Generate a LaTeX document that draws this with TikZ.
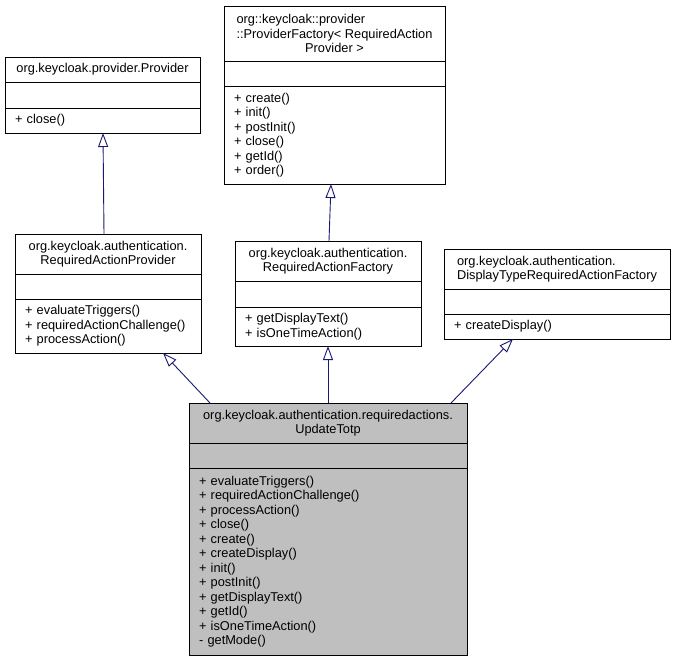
\documentclass[tikz,border=0pt]{standalone}
\usepackage{fontspec}
\setmainfont{Liberation Sans}
\usepackage{xcolor}
\usetikzlibrary{positioning,arrows.meta}

\definecolor{edgeblue}{RGB}{25,25,112}
\definecolor{classgray}{RGB}{191,191,191}

\begin{document}
\begin{tikzpicture}[x = 1pt, y = -1pt,
    every node/.style = {font = \fontsize{12.8pt}{14.5pt}\selectfont},
    compartment/.style = {rectangle, draw, line width = 0.9pt, outer sep = 0pt,
      inner ysep = 2pt},
    classname/.style = {compartment, align = center, minimum width = #1},
    members/.style = {compartment, align = left, inner xsep = 10pt, text width = #1},
    inherit/.style = {draw = edgeblue, line width = 0.9pt,
      -{Triangle[open, length = 14pt, width = 10pt]}}]
  \useasboundingbox (0, 0) rectangle (675, 661);

  % org.keycloak.provider.Provider
  \node[classname = 195pt, minimum height = 25pt] (prov) at (102.5, 69.5)
    {org.keycloak.provider.Provider};
  \node[compartment, minimum width = 195pt, minimum height = 26pt,
    below = 0pt of prov] (prov attr) {};
  \node[members = 175pt, minimum height = 25pt, below = 0pt of prov attr]
    (prov ops) {+ close()};

  % ProviderFactory< RequiredActionProvider >
  \node[classname = 221pt, minimum height = 55pt] (pfac) at (334.5, 33.5)
    {\rlap{org::keycloak::provider}\phantom{::ProviderFactory< RequiredAction}\\
      ::ProviderFactory< RequiredAction\\Provider >};
  \node[compartment, minimum width = 221pt, minimum height = 25pt,
    below = 0pt of pfac] (pfac attr) {};
  \node[members = 201pt, minimum height = 98pt, below = 0pt of pfac attr]
    (pfac ops) {+ create()\\+ init()\\+ postInit()\\+ close()\\+ getId()\\
      + order()};

  % RequiredActionProvider
  \node[classname = 186pt, minimum height = 40pt] (rap) at (108, 254)
    {org.keycloak.authentication.\\RequiredActionProvider};
  \node[compartment, minimum width = 186pt, minimum height = 25pt,
    below = 0pt of rap] (rap attr) {};
  \node[members = 166pt, minimum height = 54pt, below = 0pt of rap attr]
    (rap ops) {+ evaluateTriggers()\\+ requiredActionChallenge()\\
      + processAction()};

  % RequiredActionFactory
  \node[classname = 186pt, minimum height = 40pt] (raf) at (328, 261)
    {org.keycloak.authentication.\\RequiredActionFactory};
  \node[compartment, minimum width = 186pt, minimum height = 26pt,
    below = 0pt of raf] (raf attr) {};
  \node[members = 166pt, minimum height = 39pt, below = 0pt of raf attr]
    (raf ops) {+ getDisplayText()\\+ isOneTimeAction()};

  % DisplayTypeRequiredActionFactory
  \node[classname = 226pt, align = left, minimum height = 40pt] (dtf)
    at (557, 269) {org.keycloak.authentication.\\DisplayTypeRequiredActionFactory};
  \node[compartment, minimum width = 226pt, minimum height = 25pt,
    below = 0pt of dtf] (dtf attr) {};
  \node[members = 206pt, minimum height = 25pt, below = 0pt of dtf attr]
    (dtf ops) {+ createDisplay()};

  % UpdateTotp
  \node[classname = 278pt, fill = classgray, minimum height = 40pt] (totp)
    at (328, 423) {org.keycloak.authentication.requiredactions.\\UpdateTotp};
  \node[compartment, fill = classgray, minimum width = 278pt,
    minimum height = 25pt, below = 0pt of totp] (totp attr) {};
  \node[members = 258pt, fill = classgray, minimum height = 187pt,
    below = 0pt of totp attr] (totp ops)
    {+ evaluateTriggers()\\+ requiredActionChallenge()\\+ processAction()\\
      + close()\\+ create()\\+ createDisplay()\\+ init()\\+ postInit()\\
      + getDisplayText()\\+ getId()\\+ isOneTimeAction()\\- getMode()};

  % inheritance
  \draw[inherit] ([xshift = -4pt]rap.north) -- ([xshift = 0.5pt]prov ops.south);
  \draw[inherit] ([xshift = 1pt]raf.north) -- ([xshift = -3.5pt]pfac ops.south);
  \draw[inherit] ([xshift = -118pt]totp.north) -- ([xshift = 55pt]rap ops.south);
  \draw[inherit] (totp.north) -- (raf ops.south);
  \draw[inherit] ([xshift = 123pt]totp.north) -- ([xshift = -44pt]dtf ops.south);
\end{tikzpicture}
\end{document}
